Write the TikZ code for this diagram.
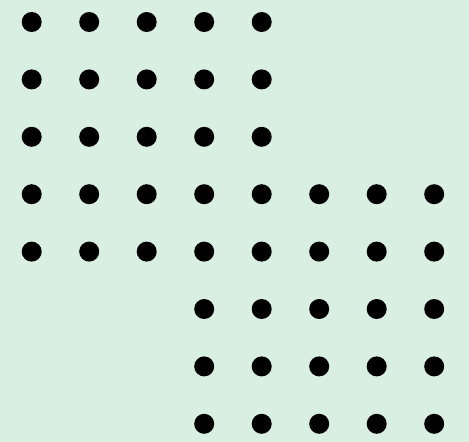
\documentclass[tikz,border=0pt]{standalone}
\definecolor{bg}{RGB}{216,239,226}
\begin{document}
\begin{tikzpicture}[x=1pt,y=-1pt,
  dot/.style={circle,fill=black,inner sep=0pt,minimum size=20pt}]
\fill[bg] (0,0) rectangle (469,442);
\useasboundingbox (0,0) rectangle (469,442);
\foreach \r in {0,...,7}{
  \foreach \c in {0,...,7}{
    \pgfmathtruncatemacro{\show}{(\r<3 && \c<5) || (\r>=3 && \r<5) || (\r>=5 && \c>=3) ? 1 : 0}
    \ifnum\show=1
      \node[dot] (d-\r-\c) at ({31.7+57.5*\c},{22+57.4*\r}) {};
    \fi
  }
}
\end{tikzpicture}
\end{document}
